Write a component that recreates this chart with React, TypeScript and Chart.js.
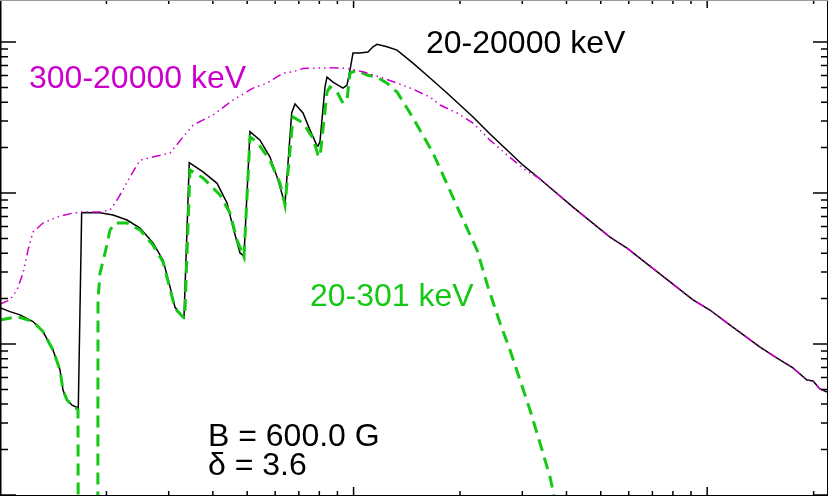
import React, { useEffect, useRef } from "react";
import { Chart, registerables } from "chart.js";

Chart.register(...registerables);

// Frequency (GHz) and flux values
const freqAll = [1.0, 1.067, 1.139, 1.24, 1.323, 1.412, 1.478, 1.507, 1.547, 1.598, 1.665, 1.702, 1.918, 2.087, 2.287, 2.489, 2.708, 2.891, 3.026, 3.126, 3.292, 3.314, 3.43, 3.751, 4.11, 4.385, 4.56, 4.772, 4.898, 5.093, 5.436, 5.802, 6.073, 6.397, 6.682, 6.828, 7.194, 7.529, 7.864, 7.931, 8.035, 8.301, 8.41, 8.744, 9.333, 9.58, 9.768, 9.961, 10.42, 10.98, 11.35, 11.65, 12.43, 13.27, 14.72, 16.45, 18.37, 20.0, 21.77, 24.31, 27.15, 30.14, 33.66, 41.74, 53.1, 59.33, 91.18, 101.8, 113.8, 141.1, 157.6, 174.8, 191.5, 199.2, 208.4, 218.2];
const fluxAll = [1.74, 1.64, 1.56, 1.41, 1.21, 0.913, 0.673, 0.496, 0.426, 0.394, 0.377, 7.43, 7.41, 7.15, 6.63, 5.86, 4.67, 3.6, 2.39, 1.75, 1.51, 1.49, 15.9, 13.8, 11.6, 8.59, 5.95, 4.01, 3.83, 25.5, 22.4, 17.3, 12.8, 8.46, 33.9, 38.9, 33.9, 26.1, 20.8, 20.5, 21.9, 50.6, 58.6, 54.3, 49.6, 51.9, 65.3, 84.6, 84.6, 85.9, 93.1, 96.6, 93.1, 88.5, 72.6, 57.8, 46.0, 38.3, 31.9, 24.6, 19.3, 15.3, 12.4, 8.07, 5.11, 4.32, 1.96, 1.68, 1.38, 0.955, 0.808, 0.694, 0.578, 0.569, 0.504, 0.481];

const freqHigh = [1.0, 1.067, 1.117, 1.162, 1.2, 1.24, 1.323, 1.449, 1.609, 1.717, 1.918, 2.047, 2.142, 2.228, 2.331, 2.489, 2.78, 3.026, 3.292, 3.514, 4.004, 4.56, 5.194, 5.69, 6.314, 6.74, 7.194, 8.577, 9.58, 10.63, 11.88, 13.27, 14.72, 16.45, 17.55, 19.61, 21.77, 24.31, 27.15, 30.14, 33.66, 41.74, 53.1, 59.33, 91.18, 101.8, 113.8, 141.1, 157.6, 174.8, 191.5, 199.2, 208.4, 218.2];
const fluxHigh = [1.84, 1.96, 2.28, 2.95, 4.19, 5.52, 6.33, 6.94, 7.37, 7.48, 7.48, 7.71, 8.99, 10.5, 12.8, 16.5, 17.6, 18.4, 23.5, 28.2, 32.9, 41.3, 49.6, 53.5, 62.3, 63.6, 66.9, 67.6, 66.9, 63.6, 58.6, 53.5, 48.8, 43.2, 38.3, 33.9, 29.1, 22.4, 17.9, 14.6, 12.4, 8.07, 5.11, 4.32, 1.96, 1.68, 1.38, 0.955, 0.808, 0.694, 0.578, 0.569, 0.504, 0.481];

const freqLow = [1.0, 1.117, 1.24, 1.323, 1.412, 1.478, 1.507, 1.547, 1.598, 1.662, 1.668, 1.889, 1.893, 1.918, 1.982, 2.047, 2.114, 2.287, 2.489, 2.708, 2.891, 3.026, 3.126, 3.292, 3.33, 3.446, 3.751, 4.191, 4.472, 4.68, 4.898, 5.093, 5.331, 5.802, 6.193, 6.397, 6.74, 7.194, 7.677, 7.931, 8.035, 8.41, 8.577, 8.976, 9.333, 9.58, 9.768, 10.22, 10.91, 11.65, 12.43, 13.27, 14.44, 15.41, 16.77, 17.89, 20.0, 22.34, 23.99, 25.94, 27.69, 29.55, 31.54, 33.66, 35.94, 37.36];
const fluxLow = [1.44, 1.52, 1.41, 1.21, 0.913, 0.673, 0.496, 0.426, 0.394, 0.366, 0.001, 0.001, 1.96, 2.95, 4.01, 5.69, 6.33, 6.33, 5.69, 4.52, 3.5, 2.32, 1.72, 1.51, 1.49, 14.2, 12.6, 9.7, 7.37, 4.88, 3.77, 23.5, 21.8, 16.5, 11.6, 8.33, 31.9, 29.1, 23.1, 17.9, 17.3, 46.7, 50.4, 46.7, 39.4, 41.3, 62.3, 65.3, 60.5, 58.6, 53.5, 46.7, 33.9, 26.1, 18.4, 13.2, 7.37, 4.19, 2.39, 1.38, 0.913, 0.578, 0.366, 0.221, 0.1316, 0.0859];

const xTickValues = [1, 2, 3, 4, 5, 6, 7, 8, 9, 10, 20, 30, 40, 50, 60, 70, 80, 90, 100, 200];
const xMajorTicks = [1, 10, 100];
const yTickValues = [0.1, 0.2, 0.3, 0.4, 0.5, 0.6, 0.7, 0.8, 0.9, 1, 2, 3, 4, 5, 6, 7, 8, 9, 10, 20, 30, 40, 50, 60, 70, 80, 90, 100];
const yMajorTicks = [0.1, 1, 10, 100];

const X_MIN = 1.0;
const X_MAX = 218.2;
const Y_MIN = 0.1;
const Y_MAX = 190;

const toPoints = (xs: number[], ys: number[]) => xs.map((x, i) => ({ x, y: ys[i] }));

const MAGENTA = "#cc00cc";
const GREEN = "#14c814";
const FONT = '32px "Liberation Sans", Arial, Helvetica, sans-serif';

const framePlugin = {
  id: "frameTicks",
  afterDatasetsDraw(chart: any) {
    const { ctx, chartArea, scales } = chart;
    const { left, right, top, bottom } = chartArea;
    const xs = scales.x;
    const ys = scales.y;
    ctx.save();
    ctx.strokeStyle = "#000";
    ctx.lineWidth = 1.5;
    ctx.beginPath();
    for (const v of xTickValues) {
      const px = xs.getPixelForValue(v);
      const len = xMajorTicks.includes(v) ? 9 : 5;
      ctx.moveTo(px, bottom + 1);
      ctx.lineTo(px, bottom + 1 - len);
      ctx.moveTo(px, top);
      ctx.lineTo(px, top + len - 1);
    }
    for (const v of yTickValues) {
      const py = ys.getPixelForValue(v);
      const major = yMajorTicks.includes(v);
      ctx.moveTo(left, py);
      ctx.lineTo(left + (major ? 16 : 8), py);
      ctx.moveTo(right + 1, py);
      ctx.lineTo(right + 1 - (major ? 15 : 7), py);
    }
    ctx.stroke();
    // frame
    ctx.fillStyle = "#000";
    ctx.fillRect(left, top, 1.5, bottom - top + 1);
    ctx.fillRect(left, bottom, right - left + 1, 1);
    ctx.fillRect(right, top, 1, bottom - top + 1);
    ctx.fillStyle = "#9a9a9a";
    ctx.fillRect(left, top, right - left + 1, 1);

    // labels
    ctx.font = FONT;
    ctx.textBaseline = "alphabetic";
    ctx.textAlign = "left";
    ctx.fillStyle = MAGENTA;
    ctx.fillText("300-20000 keV", left + 29, top + 88);
    ctx.fillStyle = "#000";
    ctx.fillText("20-20000 keV", left + 426, top + 53);
    ctx.fillStyle = GREEN;
    ctx.fillText("20-301 keV", left + 310, top + 306);
    ctx.fillStyle = "#000";
    ctx.fillText("B = 600.0 G", left + 208, top + 446);
    ctx.fillText("\u03b4 = 3.6", left + 208, top + 475);
    ctx.restore();
  },
};

export default function App() {
  const canvasRef = useRef<HTMLCanvasElement | null>(null);

  useEffect(() => {
    if (!canvasRef.current) return;
    const chart = new Chart(canvasRef.current, {
      type: "line",
      data: {
        datasets: [
          {
            label: "300-20000 keV",
            data: toPoints(freqHigh, fluxHigh),
            borderColor: MAGENTA,
            borderWidth: 1.5,
            borderDash: [9, 4, 1.5, 4, 1.5, 4, 1.5, 4],
            pointRadius: 0,
            tension: 0,
            fill: false,
          },
          {
            label: "20-301 keV",
            data: toPoints(freqLow, fluxLow),
            borderColor: GREEN,
            borderWidth: 3,
            borderDash: [12, 7],
            pointRadius: 0,
            tension: 0,
            fill: false,
          },
          {
            label: "20-20000 keV",
            data: toPoints(freqAll, fluxAll),
            borderColor: "#000",
            borderWidth: 1.5,
            pointRadius: 0,
            tension: 0,
            fill: false,
          },
        ],
      },
      options: {
        animation: false,
        responsive: false,
        devicePixelRatio: 1,
        layout: { padding: { left: 0, top: 0, right: 1, bottom: 1 } },
        plugins: { legend: { display: false }, tooltip: { enabled: false } },
        events: [],
        scales: {
          x: { type: "logarithmic", min: X_MIN, max: X_MAX, display: false },
          y: { type: "logarithmic", min: Y_MIN, max: Y_MAX, display: false },
        },
      },
      plugins: [framePlugin],
    });
    return () => chart.destroy();
  }, []);

  return (
    <div style={{ position: "fixed", left: 0, top: 0, width: 828, height: 496, background: "#fff" }}>
      <canvas ref={canvasRef} width={828} height={496} style={{ display: "block" }} />
    </div>
  );
}
